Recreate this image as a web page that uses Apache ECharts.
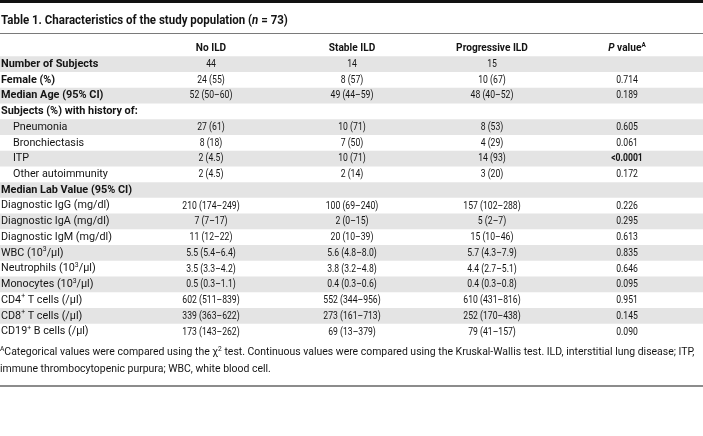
<!DOCTYPE html>
<html>
<head>
<meta charset="utf-8">
<script src="https://cdn.jsdelivr.net/npm/echarts@6/dist/echarts.min.js"></script>
<style>
html,body{margin:0;padding:0;background:#fff;}
#chart{width:703px;height:436px;}
</style>
</head>
<body>
<div id="chart"></div>
<script>
// ---------- data ----------
const columnHeaders = ['No ILD', 'Stable ILD', 'Progressive ILD', '{pi|P} value{hsup|A}'];
const rowLabels = [
  'Number of Subjects',
  'Female (%)',
  'Median Age (95% CI)',
  'Subjects (%) with history of:',
  'Pneumonia',
  'Bronchiectasis',
  'ITP',
  'Other autoimmunity',
  'Median Lab Value (95% CI)',
  'Diagnostic IgG (mg/dl)',
  'Diagnostic IgA (mg/dl)',
  'Diagnostic IgM (mg/dl)',
  'WBC (10{sup|3}/μl)',
  'Neutrophils (10{sup|3}/μl)',
  'Monocytes (10{sup|3}/μl)',
  'CD4{sup|+} T cells (/μl)',
  'CD8{sup|+} T cells (/μl)',
  'CD19{sup|+} B cells (/μl)'
];
const sectionLabels = ['Number of Subjects', 'Female (%)', 'Median Age (95% CI)',
  'Subjects (%) with history of:', 'Median Lab Value (95% CI)'];
const indentedLabels = ['Pneumonia', 'Bronchiectasis', 'ITP', 'Other autoimmunity'];
const noILD = ['44', '24 (55)', '52 (50–60)', '', '27 (61)', '8 (18)', '2 (4.5)', '2 (4.5)', '',
  '210 (174–249)', '7 (7–17)', '11 (12–22)', '5.5 (5.4–6.4)', '3.5 (3.3–4.2)', '0.5 (0.3–1.1)',
  '602 (511–839)', '339 (363–622)', '173 (143–262)'];
const stableILD = ['14', '8 (57)', '49 (44–59)', '', '10 (71)', '7 (50)', '10 (71)', '2 (14)', '',
  '100 (69–240)', '2 (0–15)', '20 (10–39)', '5.6 (4.8–8.0)', '3.8 (3.2–4.8)', '0.4 (0.3–0.6)',
  '552 (344–956)', '273 (161–713)', '69 (13–379)'];
const progressiveILD = ['15', '10 (67)', '48 (40–52)', '', '8 (53)', '4 (29)', '14 (93)', '3 (20)', '',
  '157 (102–288)', '5 (2–7)', '15 (10–46)', '5.7 (4.3–7.9)', '4.4 (2.7–5.1)', '0.4 (0.3–0.8)',
  '610 (431–816)', '252 (170–438)', '79 (41–157)'];
const pValues = ['', '0.714', '0.189', '', '0.605', '0.061', '<0.0001', '0.172', '',
  '0.226', '0.295', '0.613', '0.835', '0.646', '0.095', '0.951', '0.145', '0.090'];
const significantP = ['<0.0001'];
const titleText = '{b|Table 1. Characteristics of the study population (}{bi|n}{b| = 73)}';
const footnoteLines = [
  '{sup|A}Categorical values were compared using the χ{sup|2} test. Continuous values were compared using the Kruskal-Wallis test. ILD, interstitial lung disease; ITP,',
  'immune thrombocytopenic purpura; WBC, white blood cell.'
];

// ---------- layout ----------
const W = 703;
const colCenters = [211, 352, 492, 627];
const FONT = 'Roboto, "Noto Sans", sans-serif';
const TXT = '#141414';
const SHADE = '#e4e4e4';
const valueCols = [noILD, stableILD, progressiveILD, pValues];
const yCats = ['header'].concat(rowLabels);

const supRich = {
  sup: { fontSize: 7, fontFamily: FONT, fill: TXT, verticalAlign: 'top', lineHeight: 9 },
  hsup: { fontSize: 7, fontFamily: FONT, fontWeight: 'bold', fill: TXT, verticalAlign: 'top', lineHeight: 9 },
  pi: { fontSize: 11, fontFamily: FONT, fontWeight: 'bold', fontStyle: 'italic', fill: TXT, lineHeight: 14 }
};

function renderItem(params, api) {
  const r = api.value(0);
  const cs = params.coordSys;
  const cy = api.coord([0, r])[1];
  const bandH = api.size([0, 1])[1];
  const children = [];
  if (r % 2 === 1) {
    children.push({ type: 'rect', shape: { x: 0, y: cy - bandH / 2, width: W, height: bandH },
      style: { fill: SHADE }, silent: true });
  }
  if (r === 0) {
    columnHeaders.forEach((h, j) => {
      children.push({ type: 'text', x: api.coord([colCenters[j], r])[0], y: cy, scaleX: 0.92,
        style: { text: h, x: 0, y: 0, align: 'center', verticalAlign: 'middle', fill: TXT,
          fontFamily: FONT, fontSize: 11, fontWeight: 'bold', lineHeight: 14, rich: supRich } });
    });
  } else {
    const i = r - 1;
    const label = rowLabels[i];
    const bold = sectionLabels.indexOf(label) >= 0;
    const indent = indentedLabels.indexOf(label) >= 0;
    children.push({ type: 'text', x: cs.x + (indent ? 13 : 1), y: cy, scaleX: bold ? 0.99 : 0.98,
      style: { text: label, x: 0, y: 0, align: 'left', verticalAlign: 'middle', fill: TXT,
        fontFamily: FONT, fontSize: 11, fontWeight: bold ? 'bold' : 'normal', lineHeight: 14, rich: supRich } });
    valueCols.forEach((col, j) => {
      const v = col[i];
      if (!v) return;
      const sig = significantP.indexOf(v) >= 0;
      children.push({ type: 'text', x: api.coord([colCenters[j], r])[0], y: cy, scaleX: 0.75,
        style: { text: v, x: 0, y: 0, align: 'center', verticalAlign: 'middle', fill: TXT,
          fontFamily: FONT, fontSize: 11.5, fontWeight: sig ? 'bold' : 'normal' } });
    });
  }
  return { type: 'group', children: children };
}

const chart = echarts.init(document.getElementById('chart'), null, { renderer: 'canvas' });
chart.setOption({
  animation: false,
  backgroundColor: '#fff',
  grid: { left: 0, right: 0, top: 40.5, height: 299 },
  xAxis: { type: 'value', min: 0, max: W, show: false },
  yAxis: { type: 'category', data: yCats, inverse: true, show: false },
  series: [{
    type: 'custom',
    renderItem: renderItem,
    data: yCats.map((_, k) => [k]),
    encode: { y: 0 },
    silent: true
  }],
  graphic: [
    { type: 'rect', shape: { x: 0, y: 0, width: W, height: 3 }, style: { fill: '#111' } },
    { type: 'text', x: 1, y: 20.5, scaleX: 0.92,
      style: { text: titleText, x: 0, y: 0, verticalAlign: 'middle', fill: TXT,
        rich: {
          b: { fontFamily: FONT, fontSize: 12.5, fontWeight: 'bold', fill: TXT },
          bi: { fontFamily: FONT, fontSize: 12.5, fontWeight: 'bold', fontStyle: 'italic', fill: TXT }
        } } },
    { type: 'rect', shape: { x: 0, y: 33, width: W, height: 1 }, style: { fill: '#7a7a7a' } },
    { type: 'text', x: 0, y: 352.5, scaleX: 0.95,
      style: { text: footnoteLines[0], x: 0, y: 0, verticalAlign: 'middle', fill: TXT,
        fontFamily: FONT, fontSize: 11, lineHeight: 14, rich: supRich } },
    { type: 'text', x: 0, y: 369, scaleX: 0.95,
      style: { text: footnoteLines[1], x: 0, y: 0, verticalAlign: 'middle', fill: TXT,
        fontFamily: FONT, fontSize: 11, lineHeight: 14, rich: supRich } },
    { type: 'rect', shape: { x: 0, y: 385, width: W, height: 2 }, style: { fill: '#8c8c8c' } }
  ]
});
</script>
</body>
</html>
